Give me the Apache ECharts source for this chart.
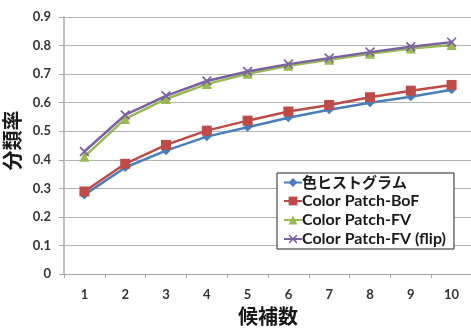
<!DOCTYPE html>
<html><head><meta charset="utf-8">
<script src="https://cdn.jsdelivr.net/npm/echarts@6/dist/echarts.min.js"></script>
<style>html,body{margin:0;padding:0;background:#fff}#c{width:471px;height:329px}</style>
</head><body><div id="c"></div>
<script>
const categories = ['1','2','3','4','5','6','7','8','9','10'];
const seriesNames = ['色ヒストグラム','Color Patch-BoF','Color Patch-FV','Color Patch-FV (flip)'];
const colorHist = [0.277,0.373,0.432,0.481,0.514,0.547,0.575,0.600,0.621,0.645];
const patchBoF  = [0.289,0.386,0.452,0.502,0.537,0.569,0.592,0.619,0.642,0.662];
const patchFV   = [0.411,0.543,0.613,0.665,0.701,0.729,0.750,0.771,0.790,0.802];
const patchFVflip = [0.429,0.557,0.624,0.676,0.709,0.735,0.756,0.777,0.796,0.812];
const xTitle = '候補数';
const yTitle = '分類率';

const FONT = 'Lato, "Noto Sans CJK JP", sans-serif';
const crossPath = 'path://M0,1.2L1.2,0L5,3.8L8.8,0L10,1.2L6.2,5L10,8.8L8.8,10L5,6.2L1.2,10L0,8.8L3.8,5Z';
const colors = ['#4a7ebb','#be4b48','#98b954','#7d60a0'];
const symbols = ['diamond','rect','triangle',crossPath];
const sizes = [9,10,10,10];
const datas = [colorHist, patchBoF, patchFV, patchFVflip];

const chart = echarts.init(document.getElementById('c'));
chart.setOption({
  animation:false,
  color: colors,
  grid:{left:64, top:17, width:408, height:257, containLabel:false, outerBoundsMode:'none'},
  legend:{
    orient:'vertical', left:277, top:173,
    backgroundColor:'#fff', borderColor:'#222', borderWidth:1,
    padding:[2,8,2,6], itemGap:3, itemWidth:18, itemHeight:11,
    data: seriesNames,
    formatter: n => n === seriesNames[0] ? '{a|'+n+'}' : '{b|'+n+'}',
    textStyle:{
      padding:[0,0,0,-5],
      rich:{
        a:{fontFamily:'"Noto Sans CJK JP"', fontWeight:'bold', fontSize:15, color:'#1a1a1a', lineHeight:21},
        b:{fontFamily:FONT, fontWeight:'bold', fontSize:16, color:'#1a1a1a', lineHeight:17}
      }
    }
  },
  xAxis:{
    type:'category', data:categories, boundaryGap:true,
    name:xTitle, nameLocation:'middle', nameGap:32,
    nameTextStyle:{fontFamily:'"Noto Sans CJK JP"', fontWeight:'bold', fontSize:20, color:'#1a1a1a'},
    axisLine:{lineStyle:{color:'#a6a6a6', width:1}},
    axisTick:{show:true, length:4, lineStyle:{color:'#a6a6a6'}},
    axisLabel:{fontFamily:FONT, fontWeight:'bold', fontSize:13, color:'#333', margin:14},
    splitLine:{show:false}
  },
  yAxis:{
    type:'value', min:0, max:0.9, interval:0.1,
    name:yTitle, nameLocation:'middle', nameGap:30, nameRotate:90,
    nameTextStyle:{fontFamily:'"Noto Sans CJK JP"', fontWeight:'bold', fontSize:20, color:'#1a1a1a', padding:[0,0,0,10]},
    axisLine:{show:true, lineStyle:{color:'#c0c0c0', width:2}},
    axisTick:{show:true, length:5, lineStyle:{color:'#a6a6a6'}},
    axisLabel:{fontFamily:FONT, fontWeight:'bold', fontSize:13, color:'#333', margin:13,
      formatter: v => v === 0 ? '0' : v.toFixed(1)},
    splitLine:{lineStyle:{color:'#b3b3b3', width:1}}
  },
  series: seriesNames.map((n,i)=>({
    name:n, type:'line', data:datas[i], symbol:symbols[i], symbolSize:sizes[i],
    showSymbol:true,
    lineStyle:{color:colors[i], width:2.5},
    itemStyle:{color:colors[i]}
  }))
});
</script></body></html>
